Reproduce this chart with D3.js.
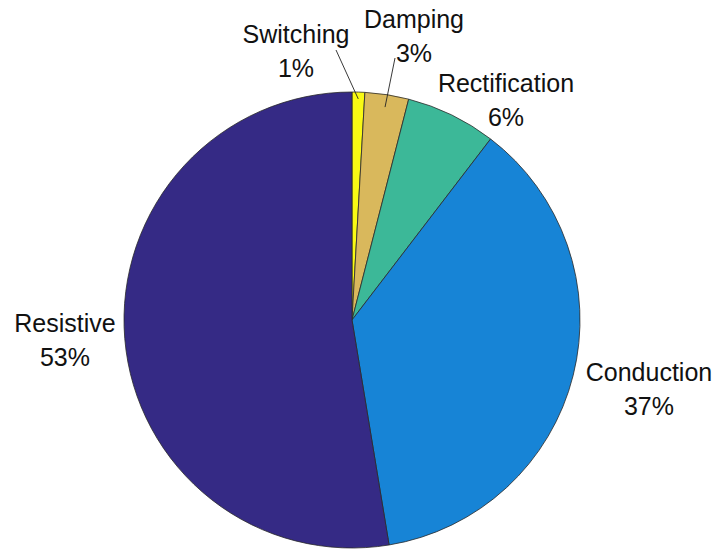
<!DOCTYPE html>
<html>
<head>
<meta charset="utf-8">
<script src="https://cdn.jsdelivr.net/npm/d3@7"></script>
<style>
html,body{margin:0;padding:0;background:#fff;}
svg{display:block;}
text{font-family:"Liberation Sans",Arial,Helvetica,sans-serif;font-size:25px;fill:#111;}
</style>
</head>
<body>
<svg id="chart" width="716" height="549"></svg>
<script>
// Data (clockwise from 12 o'clock)
const categories = ["Switching", "Damping", "Rectification", "Conduction", "Resistive"];
const values = [0.9, 3.1, 6.4, 37.0, 52.6];
const colors = ["#f9fa14", "#d9b85c", "#3cb898", "#1784d6", "#352a85"];

// Layout (label text centre x / first baseline y), leader lines
const labelPos = [
  {x: 296, y: 43, line: true, lx: 336, ly: 50, r: 0.97},
  {x: 414, y: 28, line: true, lx: 395, ly: 58, r: 0.945},
  {x: 506, y: 92, line: false},
  {x: 649, y: 381, line: false},
  {x: 65, y: 332, line: false}
];

const cx = 352, cy = 320, R = 228;
const svg = d3.select("#chart");
const g = svg.append("g").attr("transform", `translate(${cx},${cy})`);

const pie = d3.pie().sort(null).value(d => d).startAngle(0).endAngle(2 * Math.PI);
const arcs = pie(values);
const arc = d3.arc().innerRadius(0).outerRadius(R);

g.selectAll("path.slice")
  .data(arcs)
  .enter().append("path")
  .attr("class", "slice")
  .attr("d", arc)
  .attr("fill", (d, i) => colors[i])
  .attr("stroke", "#2a2a2a")
  .attr("stroke-width", 0.8)
  .attr("stroke-linejoin", "round");

const total = d3.sum(values);
arcs.forEach((d, i) => {
  const p = labelPos[i];
  if (p.line) {
    const mid = (d.startAngle + d.endAngle) / 2;
    const ix = cx + Math.sin(mid) * R * p.r;
    const iy = cy - Math.cos(mid) * R * p.r;
    svg.append("line")
      .attr("x1", p.lx).attr("y1", p.ly)
      .attr("x2", ix).attr("y2", iy)
      .attr("stroke", "#222").attr("stroke-width", 0.9);
  }
  const t = svg.append("text")
    .attr("text-anchor", "middle")
    .attr("x", p.x).attr("y", p.y);
  t.append("tspan").attr("x", p.x).attr("y", p.y).text(categories[i]);
  t.append("tspan").attr("x", p.x).attr("y", p.y + 34)
    .text(Math.round(d.data / total * 100) + "%");
});
</script>
</body>
</html>
